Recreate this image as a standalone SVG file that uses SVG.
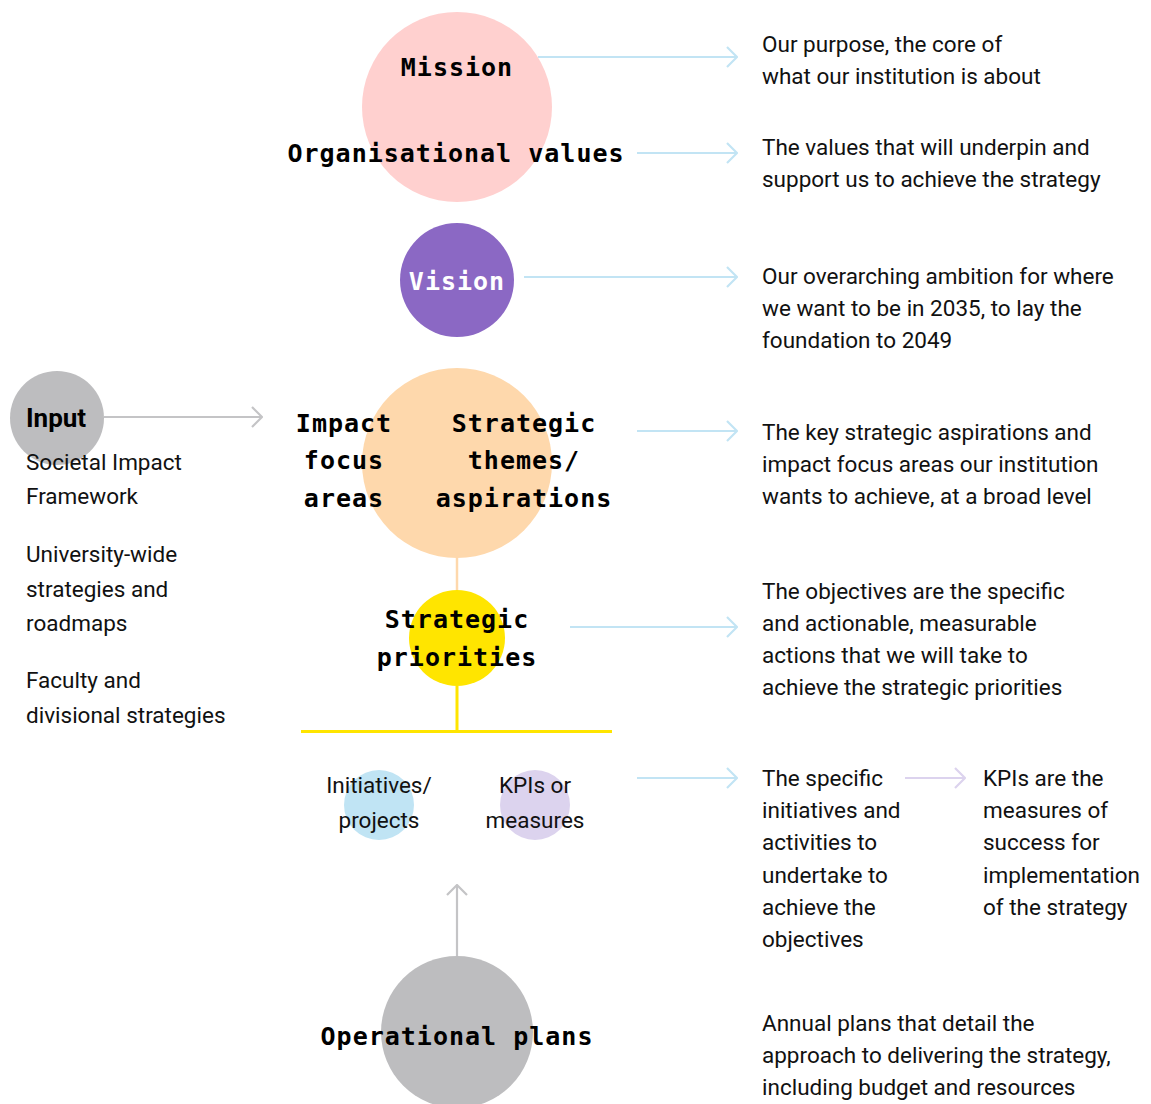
<svg xmlns="http://www.w3.org/2000/svg" width="1151" height="1104" viewBox="0 0 1151 1104">
<style>
.mono{font-family:"DejaVu Sans Mono","Liberation Mono",monospace;font-weight:bold;font-size:25px;text-anchor:middle;fill:#000;letter-spacing:1px}
.sans{font-family:Roboto,"Liberation Sans",sans-serif;font-size:22.5px;fill:#111}
.mid{text-anchor:middle}
.blue{stroke:#C2E4F4;stroke-width:2.2;fill:none}
.grey{stroke:#C4C4C6;stroke-width:2.2;fill:none}
.lav{stroke:#DCD3EE;stroke-width:2.2;fill:none}
</style>
<defs>
<marker id="ab" viewBox="0 0 12 22" refX="11" refY="11" markerWidth="12" markerHeight="22" markerUnits="userSpaceOnUse" orient="auto"><path d="M1,1 L11,11 L1,21" fill="none" stroke="#C2E4F4" stroke-width="2.2"/></marker>
<marker id="ag" viewBox="0 0 12 22" refX="11" refY="11" markerWidth="12" markerHeight="22" markerUnits="userSpaceOnUse" orient="auto"><path d="M1,1 L11,11 L1,21" fill="none" stroke="#C4C4C6" stroke-width="2.2"/></marker>
<marker id="al" viewBox="0 0 12 22" refX="11" refY="11" markerWidth="12" markerHeight="22" markerUnits="userSpaceOnUse" orient="auto"><path d="M1,1 L11,11 L1,21" fill="none" stroke="#DCD3EE" stroke-width="2.2"/></marker>
</defs>
<rect width="1151" height="1104" fill="#fff"/>

<g id="connectors">
<line x1="457" y1="558" x2="457" y2="590" stroke="#FED8AC" stroke-width="2.5"/>
<line x1="457" y1="686" x2="457" y2="731" stroke="#FFE500" stroke-width="3"/>
<line x1="301" y1="731.5" x2="612" y2="731.5" stroke="#FFE500" stroke-width="3"/>
<line class="grey" x1="457" y1="956" x2="457" y2="885" marker-end="url(#ag)"/>
<line class="grey" x1="104" y1="417" x2="262" y2="417" marker-end="url(#ag)"/>
<line class="blue" x1="538" y1="57" x2="737" y2="57" marker-end="url(#ab)"/>
<line class="blue" x1="637" y1="153" x2="737" y2="153" marker-end="url(#ab)"/>
<line class="blue" x1="524" y1="277" x2="737" y2="277" marker-end="url(#ab)"/>
<line class="blue" x1="637" y1="431" x2="737" y2="431" marker-end="url(#ab)"/>
<line class="blue" x1="570" y1="627" x2="737" y2="627" marker-end="url(#ab)"/>
<line class="blue" x1="637" y1="778" x2="737" y2="778" marker-end="url(#ab)"/>
<line class="lav" x1="905" y1="778" x2="965" y2="778" marker-end="url(#al)"/>
</g>

<g id="mission">
<circle cx="457" cy="107" r="95" fill="#FFD0CF"/>
<text class="mono" x="457" y="76">Mission</text>
<text class="mono" x="456" y="162">Organisational values</text>
</g>
<g id="vision">
<circle cx="457" cy="280" r="57" fill="#8B68C4"/>
<text class="mono" x="457" y="290" style="fill:#fff">Vision</text>
</g>
<g id="themes">
<circle cx="457" cy="463" r="95" fill="#FED8AC"/>
<text class="mono" x="344" y="432">Impact</text>
<text class="mono" x="344" y="469">focus</text>
<text class="mono" x="344" y="507">areas</text>
<text class="mono" x="524" y="432">Strategic</text>
<text class="mono" x="524" y="469">themes/</text>
<text class="mono" x="524" y="507">aspirations</text>
</g>
<g id="priorities">
<circle cx="457" cy="638" r="48" fill="#FFE500"/>
<text class="mono" x="457" y="628">Strategic</text>
<text class="mono" x="457" y="666">priorities</text>
</g>
<g id="initiatives">
<circle cx="379" cy="805" r="35" fill="#C0E4F4"/>
<text class="sans mid" x="379" y="793">Initiatives/</text>
<text class="sans mid" x="379" y="828">projects</text>
</g>
<g id="kpis">
<circle cx="535" cy="805" r="35" fill="#DCD3EE"/>
<text class="sans mid" x="535" y="793">KPIs or</text>
<text class="sans mid" x="535" y="828">measures</text>
</g>
<g id="operational">
<circle cx="457" cy="1032" r="76" fill="#BDBDBF"/>
<text class="mono" x="457" y="1045">Operational plans</text>
</g>
<g id="input">
<circle cx="57" cy="418" r="47" fill="#BDBDBF"/>
<text x="26" y="427" style="font-family:Roboto,'Liberation Sans',sans-serif;font-weight:bold;font-size:26px;fill:#000">Input</text>
<text class="sans" x="26" y="470">Societal Impact</text>
<text class="sans" x="26" y="504">Framework</text>
<text class="sans" x="26" y="562">University-wide</text>
<text class="sans" x="26" y="597">strategies and</text>
<text class="sans" x="26" y="631">roadmaps</text>
<text class="sans" x="26" y="688">Faculty and</text>
<text class="sans" x="26" y="723">divisional strategies</text>
</g>
<g id="descriptions">
<text class="sans" x="762" y="52">Our purpose, the core of</text>
<text class="sans" x="762" y="84">what our institution is about</text>
<text class="sans" x="762" y="155">The values that will underpin and</text>
<text class="sans" x="762" y="187">support us to achieve the strategy</text>
<text class="sans" x="762" y="284">Our overarching ambition for where</text>
<text class="sans" x="762" y="316">we want to be in 2035, to lay the</text>
<text class="sans" x="762" y="348">foundation to 2049</text>
<text class="sans" x="762" y="440">The key strategic aspirations and</text>
<text class="sans" x="762" y="472">impact focus areas our institution</text>
<text class="sans" x="762" y="504">wants to achieve, at a broad level</text>
<text class="sans" x="762" y="599">The objectives are the specific</text>
<text class="sans" x="762" y="631">and actionable, measurable</text>
<text class="sans" x="762" y="663">actions that we will take to</text>
<text class="sans" x="762" y="695">achieve the strategic priorities</text>
<text class="sans" x="762" y="786">The specific</text>
<text class="sans" x="762" y="818">initiatives and</text>
<text class="sans" x="762" y="850">activities to</text>
<text class="sans" x="762" y="883">undertake to</text>
<text class="sans" x="762" y="915">achieve the</text>
<text class="sans" x="762" y="947">objectives</text>
<text class="sans" x="983" y="786">KPIs are the</text>
<text class="sans" x="983" y="818">measures of</text>
<text class="sans" x="983" y="850">success for</text>
<text class="sans" x="983" y="883">implementation</text>
<text class="sans" x="983" y="915">of the strategy</text>
<text class="sans" x="762" y="1031">Annual plans that detail the</text>
<text class="sans" x="762" y="1063">approach to delivering the strategy,</text>
<text class="sans" x="762" y="1095">including budget and resources</text>
</g>
</svg>
